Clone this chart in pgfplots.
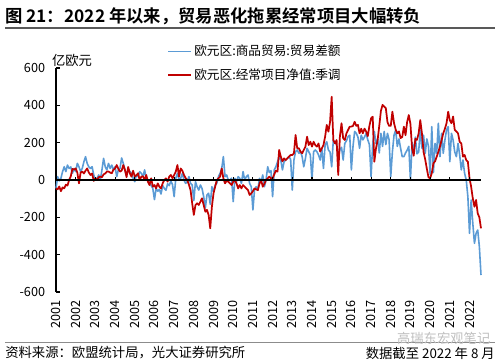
\documentclass[border=0pt]{standalone}
\usepackage{fontspec}
\setmainfont{Noto Sans CJK SC}
\newfontfamily\titlefont{Noto Sans CJK SC Bold}
\usepackage{graphicx}
\usepackage{pgfplots}
\pgfplotsset{compat=1.18}
\usepackage{pgfplotstable}
\definecolor{tbblue}{RGB}{91,155,213}
\definecolor{cared}{RGB}{192,0,0}

\pgfplotstableread{
yr mo tb ca
2001 1 -45 -45
2001 2 18 -50
2001 3 -5 -35
2001 4 9 -60
2001 5 45 -40
2001 6 71 -45
2001 7 45 -25
2001 8 80 -30
2001 9 62 0
2001 10 70 20
2001 11 36 60
2001 12 62 55
2002 1 45 62
2002 2 89 40
2002 3 71 -18
2002 4 45 40
2002 5 62 45
2002 6 98 35
2002 7 125 50
2002 8 89 62
2002 9 71 40
2002 10 62 27
2002 11 71 35
2002 12 27 -5
2003 1 0 9
2003 2 9 0
2003 3 27 15
2003 4 0 18
2003 5 54 15
2003 6 116 30
2003 7 71 35
2003 8 54 45
2003 9 89 45
2003 10 62 40
2003 11 80 36
2003 12 54 55
2004 1 71 62
2004 2 18 80
2004 3 54 60
2004 4 62 45
2004 5 118 50
2004 6 89 80
2004 7 54 54
2004 8 27 15
2004 9 54 70
2004 10 45 36
2004 11 36 18
2004 12 9 50
2005 1 -9 18
2005 2 27 25
2005 3 18 36
2005 4 45 0
2005 5 36 18
2005 6 18 20
2005 7 54 0
2005 8 9 27
2005 9 0 -9
2005 10 -18 -27
2005 11 -30 9
2005 12 -45 -36
2006 1 -105 -27
2006 2 -45 -45
2006 3 -60 -18
2006 4 -50 -36
2006 5 -75 -45
2006 6 -30 -18
2006 7 -45 0
2006 8 -55 9
2006 9 -20 -9
2006 10 -30 18
2006 11 -5 27
2006 12 -25 9
2007 1 -89 27
2007 2 9 45
2007 3 36 80
2007 4 0 18
2007 5 9 62
2007 6 36 50
2007 7 0 27
2007 8 -18 10
2007 9 -9 0
2007 10 18 -25
2007 11 -18 -54
2007 12 -27 -125
2008 1 -110 -187
2008 2 -9 -134
2008 3 -36 -125
2008 4 -54 -134
2008 5 -27 -116
2008 6 -45 -98
2008 7 -89 -134
2008 8 -150 -170
2008 9 -80 -160
2008 10 -71 -187
2008 11 -130 -259
2008 12 -36 -143
2009 1 -62 -71
2009 2 -27 -36
2009 3 -18 0
2009 4 18 9
2009 5 36 18
2009 6 62 62
2009 7 125 9
2009 8 18 -18
2009 9 27 -5
2009 10 0 -9
2009 11 0 -18
2009 12 10 -27
2010 1 -116 -9
2010 2 9 0
2010 3 -9 -18
2010 4 18 -45
2010 5 9 -27
2010 6 -18 -45
2010 7 45 -27
2010 8 0 -36
2010 9 18 -45
2010 10 27 -54
2010 11 -18 -80
2010 12 -36 -71
2011 1 -160 -60
2011 2 -50 -45
2011 3 -36 -50
2011 4 -54 -54
2011 5 9 -20
2011 6 -9 0
2011 7 27 -36
2011 8 -36 -20
2011 9 0 0
2011 10 71 9
2011 11 40 18
2011 12 50 9
2012 1 -89 9
2012 2 54 30
2012 3 71 50
2012 4 98 45
2012 5 125 161
2012 6 107 125
2012 7 54 100
2012 8 98 116
2012 9 107 107
2012 10 116 116
2012 11 125 125
2012 12 110 134
2013 1 -54 134
2013 2 107 143
2013 3 152 241
2013 4 161 170
2013 5 143 170
2013 6 152 152
2013 7 125 143
2013 8 71 161
2013 9 116 179
2013 10 170 232
2013 11 152 187
2013 12 134 205
2014 1 0 179
2014 2 152 205
2014 3 161 187
2014 4 152 179
2014 5 134 196
2014 6 107 152
2014 7 170 170
2014 8 62 187
2014 9 187 232
2014 10 205 295
2014 11 161 259
2014 12 150 310
2015 1 71 446
2015 2 214 214
2015 3 200 196
2015 4 190 214
2015 5 125 27
2015 6 160 232
2015 7 175 304
2015 8 107 223
2015 9 196 214
2015 10 210 250
2015 11 232 268
2015 12 240 286
2016 1 54 286
2016 2 180 290
2016 3 260 312
2016 4 250 290
2016 5 230 295
2016 6 170 250
2016 7 240 275
2016 8 215 250
2016 9 230 275
2016 10 250 260
2016 11 215 235
2016 12 190 290
2017 1 18 330
2017 2 190 339
2017 3 260 98
2017 4 195 170
2017 5 220 214
2017 6 145 290
2017 7 250 370
2017 8 180 402
2017 9 260 393
2017 10 190 385
2017 11 250 310
2017 12 215 290
2018 1 18 290
2018 2 150 366
2018 3 240 305
2018 4 268 270
2018 5 180 250
2018 6 220 260
2018 7 170 225
2018 8 125 230
2018 9 125 286
2018 10 145 240
2018 11 160 312
2018 12 180 348
2019 1 0 300
2019 2 200 170
2019 3 150 130
2019 4 230 220
2019 5 140 215
2019 6 150 250
2019 7 268 321
2019 8 170 250
2019 9 240 150
2019 10 143 110
2019 11 220 60
2019 12 180 15
2020 1 30 9
2020 2 286 36
2020 3 40 90
2020 4 196 100
2020 5 143 125
2020 6 304 150
2020 7 125 180
2020 8 250 214
2020 9 143 250
2020 10 214 275
2020 11 268 304
2020 12 286 366
2021 1 98 320
2021 2 250 304
2021 3 214 340
2021 4 150 268
2021 5 125 260
2021 6 196 250
2021 7 134 205
2021 8 54 196
2021 9 107 125
2021 10 36 134
2021 11 0 107
2021 12 -89 98
2022 1 -286 9
2022 2 -107 -36
2022 3 -232 -98
2022 4 -339 -143
2022 5 -286 -107
2022 6 -268 -179
2022 7 -357 -200
2022 8 -509 -259
}\data

\begin{document}
\begin{tikzpicture}
\path[use as bounding box] (0,0) rectangle (375pt,-270.75pt);
\node[anchor=west, inner sep=0pt] at (3.75pt,-12pt) {\resizebox{312pt}{!}{\titlefont 图 21：2022 年以来，贸易恶化拖累经常项目大幅转负}};
\draw[line width=1.2pt, color=black!65] (3.75pt,-21pt) -- (371.25pt,-21pt);

\begin{axis}[
  at={(42pt,-219pt)}, anchor=south west,
  scale only axis, width=318.75pt, height=168pt,
  xmin=0, xmax=259, ymin=-600, ymax=600,
  axis y line*=left, axis x line*=bottom,
  x axis line style={draw=none},
  y axis line style={black, line width=0.8pt},
  xtick={0,12,...,252},
  xticklabels={2001,2002,2003,2004,2005,2006,2007,2008,2009,2010,2011,2012,2013,2014,2015,2016,2017,2018,2019,2020,2021,2022},
  xtick style={draw=none},
  ytick={-600,-400,...,600},
  ytick style={black, line width=0.8pt},
  tick align=inside, major tick length=3pt,
  /pgf/number format/assume math mode=true,
  xticklabel style={rotate=90, anchor=east, inner sep=0pt, font=\fontsize{9.5pt}{11pt}\selectfont},
  xticklabel shift=6pt,
  yticklabel style={anchor=east, inner sep=0pt, font=\fontsize{9.5pt}{11pt}\selectfont},
  yticklabel shift=8pt,
  legend style={at={(0.261,1.115)}, anchor=north west, draw=none, fill=none,
    font=\fontsize{9.5pt}{11pt}\selectfont, inner sep=0pt, row sep=4pt, cells={anchor=west}},
  legend image code/.code={\draw[#1] (0pt,0pt) -- (17pt,0pt);},
  clip=false,
]
\addplot[tbblue, line width=1.2pt, no marks, line join=round] table[x expr=(\thisrow{yr}-2001)*12+\thisrow{mo}-1, y=tb] {\data};
\addlegendentry{欧元区:商品贸易:贸易差额}
\addplot[cared, line width=1.3pt, no marks, line join=round] table[x expr=(\thisrow{yr}-2001)*12+\thisrow{mo}-1, y=ca] {\data};
\addlegendentry{欧元区:经常项目净值:季调}
\draw[black, line width=0.8pt] (axis cs:0,0) -- (axis cs:259,0);
\pgfplotsinvokeforeach{0,12,...,252}{\draw[black, line width=0.8pt] (axis cs:#1,0) -- (axis cs:#1,16);}
\end{axis}

\node[inner sep=0pt] at (54pt,-45pt) {\fontsize{10pt}{12pt}\selectfont 亿欧元};

\draw[line width=0.6pt, color=black!45] (3.75pt,-256.5pt) -- (371.25pt,-256.5pt);
\node[anchor=east, inner sep=0pt, text=black!25] at (368pt,-254pt) {\fontsize{10pt}{12pt}\selectfont 高瑞东宏观笔记};
\node[anchor=west, inner sep=0pt] at (3.75pt,-264.75pt) {\fontsize{10pt}{12pt}\selectfont 资料来源：欧盟统计局，光大证券研究所};
\node[anchor=east, inner sep=0pt] at (371.25pt,-264.75pt) {\fontsize{10pt}{12pt}\selectfont 数据截至 2022 年 8 月};
\end{tikzpicture}
\end{document}
